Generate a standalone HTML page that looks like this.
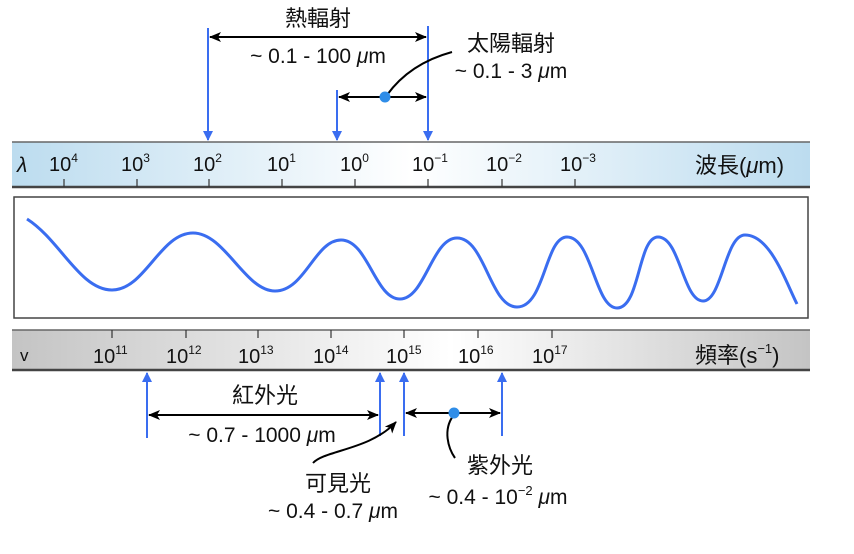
<!DOCTYPE html>
<html><head><meta charset="utf-8"><style>
body{margin:0;background:#fff;}
svg text{font-family:"Liberation Sans","Noto Sans CJK TC",sans-serif;fill:#111;}
</style></head><body>
<svg width="854" height="549" viewBox="0 0 854 549" xmlns="http://www.w3.org/2000/svg">
<defs>
<linearGradient id="gb" x1="0" x2="1" y1="0" y2="0">
<stop offset="0" stop-color="#bcdcef"/><stop offset="0.5" stop-color="#ffffff"/><stop offset="1" stop-color="#bcdcef"/></linearGradient>
<linearGradient id="gg" x1="0" x2="1" y1="0" y2="0">
<stop offset="0" stop-color="#c4c4c4"/><stop offset="0.55" stop-color="#ffffff"/><stop offset="1" stop-color="#c4c4c4"/></linearGradient>
<marker id="ab" markerWidth="10" markerHeight="10" refX="9" refY="5" orient="auto" markerUnits="userSpaceOnUse"><path d="M0,0 L10,5 L0,10 Z" fill="#3a6df0"/></marker>
<marker id="ak" markerWidth="12" markerHeight="12" refX="11" refY="6" orient="auto" markerUnits="userSpaceOnUse"><path d="M0,1 L12,6 L0,11 L3,6 Z" fill="#000"/></marker>
</defs>
<rect x="12" y="142" width="798" height="45" fill="url(#gb)"/>
<line x1="12" y1="142" x2="810" y2="142" stroke="#666" stroke-width="1.5"/>
<line x1="12" y1="187" x2="810" y2="187" stroke="#444" stroke-width="2.5"/>
<g stroke="#333" stroke-width="1.2">
<line x1="64" y1="179" x2="64" y2="187"/><line x1="137" y1="179" x2="137" y2="187"/><line x1="209" y1="179" x2="209" y2="187"/><line x1="282" y1="179" x2="282" y2="187"/><line x1="355" y1="179" x2="355" y2="187"/><line x1="428" y1="179" x2="428" y2="187"/><line x1="502" y1="179" x2="502" y2="187"/><line x1="575" y1="179" x2="575" y2="187"/>
</g>
<g font-size="20">
<text x="17" y="172" font-size="21" font-style="italic" font-family="Liberation Serif,serif">λ</text>
<text x="49" y="171">10<tspan font-size="12" dy="-9">4</tspan></text>
<text x="121" y="171">10<tspan font-size="12" dy="-9">3</tspan></text>
<text x="193" y="171">10<tspan font-size="12" dy="-9">2</tspan></text>
<text x="267" y="171">10<tspan font-size="12" dy="-9">1</tspan></text>
<text x="340" y="171">10<tspan font-size="12" dy="-9">0</tspan></text>
<text x="412" y="171">10<tspan font-size="12" dy="-9">−1</tspan></text>
<text x="486" y="171">10<tspan font-size="12" dy="-9">−2</tspan></text>
<text x="560" y="171">10<tspan font-size="12" dy="-9">−3</tspan></text>
<text x="695" y="173" font-size="22">波長(<tspan font-style="italic">μ</tspan>m)</text>
</g>
<rect x="14" y="197" width="794" height="121" fill="#fff" stroke="#444" stroke-width="1.5"/>
<path d="M27,219 C60,240 80,290 112,290 C145,290 160,233 193,233 C225,233 245,291 275,291 C305,291 315,240 341,240 C368,240 375,299 400,299 C425,299 432,238 457,238 C485,238 490,307 517,307 C545,307 545,237 567,237 C592,237 595,308 617,308 C640,308 638,237 658,237 C680,237 683,301 703,301 C722,301 725,235 745,235 C770,235 785,280 797,304" fill="none" stroke="#3a6df0" stroke-width="3"/>
<rect x="12" y="330" width="798" height="40" fill="url(#gg)"/>
<line x1="12" y1="330" x2="810" y2="330" stroke="#666" stroke-width="1.5"/>
<line x1="12" y1="370" x2="810" y2="370" stroke="#444" stroke-width="2.5"/>
<g stroke="#333" stroke-width="1.2">
<line x1="112" y1="330" x2="112" y2="338"/><line x1="186" y1="330" x2="186" y2="338"/><line x1="258" y1="330" x2="258" y2="338"/><line x1="331" y1="330" x2="331" y2="338"/><line x1="404" y1="330" x2="404" y2="338"/><line x1="478" y1="330" x2="478" y2="338"/><line x1="552" y1="330" x2="552" y2="338"/>
</g>
<g font-size="20">
<text x="20" y="361" font-size="17">v</text>
<text x="93" y="363">10<tspan font-size="12" dy="-9">11</tspan></text>
<text x="166" y="363">10<tspan font-size="12" dy="-9">12</tspan></text>
<text x="238" y="363">10<tspan font-size="12" dy="-9">13</tspan></text>
<text x="313" y="363">10<tspan font-size="12" dy="-9">14</tspan></text>
<text x="386" y="363">10<tspan font-size="12" dy="-9">15</tspan></text>
<text x="458" y="363">10<tspan font-size="12" dy="-9">16</tspan></text>
<text x="532" y="363">10<tspan font-size="12" dy="-9">17</tspan></text>
<text x="695" y="363" font-size="22">頻率(s<tspan font-size="13" dy="-10">−1</tspan><tspan dy="10">)</tspan></text>
</g>
<g stroke="#3a6df0" stroke-width="2" fill="none">
<line x1="208" y1="28" x2="208" y2="140" marker-end="url(#ab)"/>
<line x1="428" y1="26" x2="428" y2="140" marker-end="url(#ab)"/>
<line x1="337" y1="90" x2="337" y2="140" marker-end="url(#ab)"/>
</g>
<g stroke="#000" stroke-width="2" fill="none">
<line x1="300" y1="37" x2="426" y2="37" marker-end="url(#ak)"/>
<line x1="300" y1="37" x2="210" y2="37" marker-end="url(#ak)"/>
<line x1="385" y1="97" x2="339" y2="97" marker-end="url(#ak)"/>
<line x1="385" y1="97" x2="426" y2="97" marker-end="url(#ak)"/>
<path d="M387,95 C405,70 430,58 452,52"/>
</g>
<circle cx="385" cy="97" r="5.5" fill="#2f8de8"/>
<g font-size="21">
<text x="318" y="26" text-anchor="middle" font-size="22">熱輻射</text>
<text x="318" y="63" text-anchor="middle">~ 0.1 - 100 <tspan font-style="italic">μ</tspan>m</text>
<text x="511" y="51" text-anchor="middle" font-size="22">太陽輻射</text>
<text x="511" y="78" text-anchor="middle">~ 0.1 - 3 <tspan font-style="italic">μ</tspan>m</text>
</g>
<g stroke="#3a6df0" stroke-width="2" fill="none">
<line x1="147" y1="438" x2="147" y2="373" marker-end="url(#ab)"/>
<line x1="380" y1="436" x2="380" y2="373" marker-end="url(#ab)"/>
<line x1="404" y1="436" x2="404" y2="373" marker-end="url(#ab)"/>
<line x1="502" y1="436" x2="502" y2="373" marker-end="url(#ab)"/>
</g>
<g stroke="#000" stroke-width="2" fill="none">
<line x1="260" y1="415" x2="149" y2="415" marker-end="url(#ak)"/>
<line x1="260" y1="415" x2="378" y2="415" marker-end="url(#ak)"/>
<line x1="454" y1="413" x2="406" y2="413" marker-end="url(#ak)"/>
<line x1="454" y1="413" x2="500" y2="413" marker-end="url(#ak)"/>
<path d="M313,463 C325,450 370,450 396,422" marker-end="url(#ak)"/>
<path d="M453,416 C443,430 448,448 455,458"/>
</g>
<circle cx="454" cy="413" r="5.5" fill="#2f8de8"/>
<g font-size="21">
<text x="265" y="403" text-anchor="middle" font-size="22">紅外光</text>
<text x="262" y="442" text-anchor="middle">~ 0.7 - 1000 <tspan font-style="italic">μ</tspan>m</text>
<text x="338" y="491" text-anchor="middle" font-size="22">可見光</text>
<text x="333" y="518" text-anchor="middle">~ 0.4 - 0.7 <tspan font-style="italic">μ</tspan>m</text>
<text x="500" y="473" text-anchor="middle" font-size="22">紫外光</text>
<text x="498" y="504" text-anchor="middle">~ 0.4 - 10<tspan font-size="13" dy="-9">−2</tspan><tspan dy="9"> <tspan font-style="italic">μ</tspan>m</tspan></text>
</g>
</svg>
</body></html>
